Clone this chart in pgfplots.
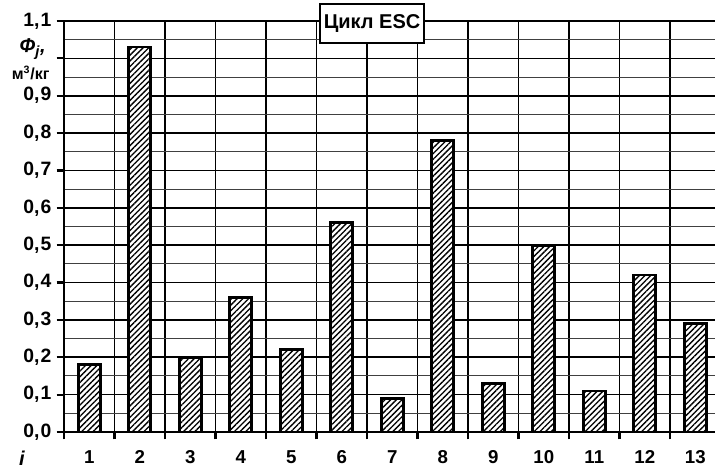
\documentclass[border=0pt]{standalone}
\usepackage{pgfplots}
\pgfplotsset{compat=1.18}
\usepackage{fontspec}
\setmainfont{Liberation Sans}
\usetikzlibrary{patterns.meta}
\begin{document}
\begin{tikzpicture}
\path[use as bounding box] (-48pt,-27pt) rectangle (488.25pt,324pt);
\begin{axis}[
  at={(0,0)}, anchor=origin,
  scale only axis,
  width=492.4pt, height=308.25pt,
  xmin=0.5, xmax=13.5,
  ymin=0, ymax=1.1,
  axis lines*=left,
  axis line style={line width=2.2pt, -},
  tick align=outside,
  major tick length=5.5pt,
  minor tick length=0pt,
  tick style={line width=1.6pt, black},
  xtick={0.5,1.5,...,13.5},
  xticklabels={},
  extra x ticks={1,2,...,13},
  extra x tick labels={1,2,3,4,5,6,7,8,9,10,11,12,13},
  extra x tick style={grid=none, tick style={draw=none}},
  ytick={0,0.1,0.2,0.3,0.4,0.5,0.6,0.7,0.8,0.9,1.1},
  extra y ticks={1.0},
  extra y tick labels={},
  extra y tick style={grid=major},
  minor ytick={0.05,0.15,...,1.05},
  xmajorgrids, ymajorgrids, yminorgrids,
  major grid style={line width=1.2pt, black},
  minor grid style={line width=0.8pt, black!75},
  yticklabel style={/pgf/number format/.cd, use comma, set decimal separator={,\kern0.8pt}, fixed, fixed zerofill, precision=1, /tikz/.cd, font=\fontsize{14.5}{16}\selectfont\bfseries, xshift=-0.5pt},
  xticklabel style={font=\fontsize{14}{16}\selectfont\bfseries, text height=10pt, text depth=0pt, yshift=-4.5pt},
  /pgf/number format/assume math mode=true,
  ybar, bar width=16.5pt,
  clip=false,
]
\addplot[draw=black, line width=2pt, fill=white, postaction={pattern={Lines[angle=45,distance=3pt,line width=1pt]}, pattern color=black}]
  coordinates {(1,0.18) (2,1.03) (3,0.20) (4,0.36) (5,0.22) (6,0.56) (7,0.09) (8,0.78) (9,0.13) (10,0.50) (11,0.11) (12,0.42) (13,0.29)};
\node[draw, line width=1.5pt, fill=white, font=\fontsize{15}{17}\selectfont\bfseries, inner xsep=3pt, minimum height=29pt] at (axis cs:6.6,1.094) {Цикл ESC};
\end{axis}
\node[font=\fontsize{15}{17}\selectfont\bfseries\itshape] at (-23.5pt,287pt) {Ф\textsubscript{\fontsize{11}{12}\selectfont j},};
\node[font=\fontsize{12}{14}\selectfont\bfseries] at (-25pt,269pt) {м\textsuperscript{3}/кг};
\node[font=\fontsize{15}{17}\selectfont\bfseries\itshape] at (-31.5pt,-19.5pt) {i};
\end{tikzpicture}
\end{document}
